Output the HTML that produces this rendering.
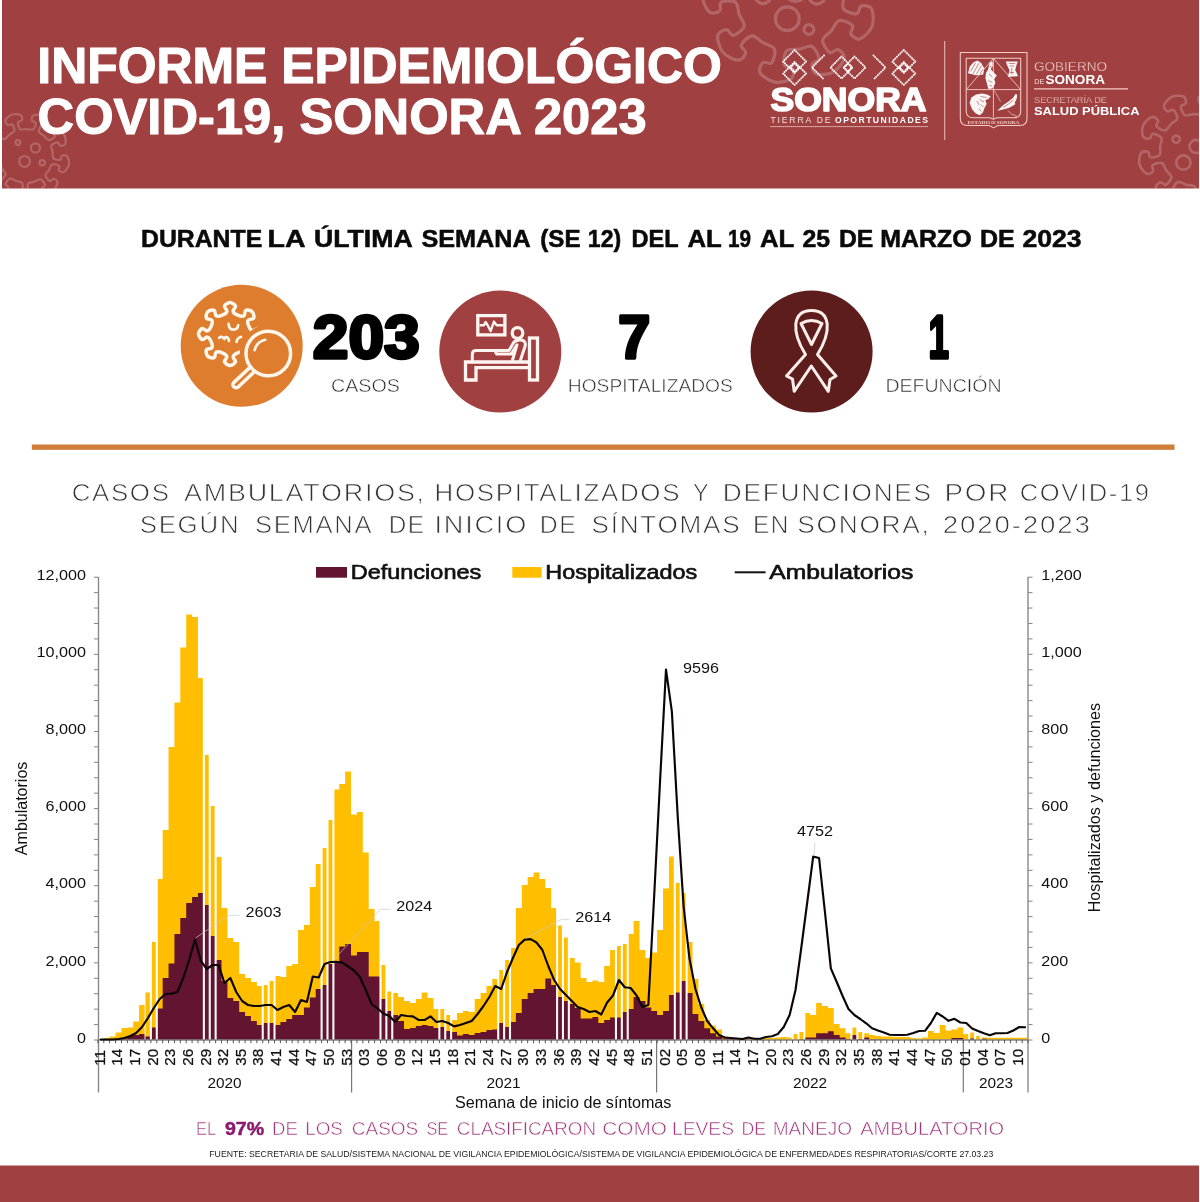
<!DOCTYPE html>
<html lang="es"><head><meta charset="utf-8"><title>Informe Epidemiológico COVID-19, Sonora 2023</title>
<style>
html,body{margin:0;padding:0;background:#fff;}
body{width:1200px;height:1202px;overflow:hidden;position:relative;font-family:"Liberation Sans",sans-serif;}
svg{position:absolute;left:0;top:0;display:block;}
text{font-family:"Liberation Sans",sans-serif;}
text.sf{font-family:"Liberation Serif",serif;}
</style></head><body>
<svg width="1200" height="1202" viewBox="0 0 1200 1202">
<rect x="2" y="0" width="1197" height="188.5" fill="#A14041"/>
<rect x="0" y="1165.5" width="1199" height="36.5" fill="#A14041"/>
<clipPath id="hc"><rect x="2" y="0" width="1197" height="188.5"/></clipPath><g clip-path="url(#hc)">
<g fill="none" stroke="#fff" stroke-width="3.2" stroke-opacity="0.2" stroke-linecap="round" stroke-linejoin="round"><path d="M844.0,-3.9C844.0,0.4 841.4,6.1 843.5,9.0C845.7,11.9 853.9,14.2 856.8,13.7C859.7,13.2 858.7,6.9 861.1,6.1C863.6,5.2 869.6,5.4 871.5,8.7C873.3,12.0 874.0,21.0 872.2,26.0C870.3,31.0 864.0,37.4 860.5,38.8C856.9,40.1 852.2,36.3 850.9,34.1C849.5,31.9 854.4,27.8 852.5,25.5C850.6,23.2 842.8,19.7 839.3,20.5C835.8,21.4 834.1,27.4 831.3,30.7C828.6,34.1 822.9,36.7 822.6,40.4C822.4,44.0 827.2,51.0 829.8,52.5C832.4,54.0 835.6,48.5 838.0,49.4C840.4,50.3 845.0,54.4 844.3,58.1C843.5,61.8 838.3,69.1 833.7,71.8C829.0,74.5 820.1,75.3 816.5,74.1C812.9,72.8 811.7,66.9 812.1,64.3C812.5,61.8 819.0,61.7 818.9,58.8C818.9,55.8 815.3,48.1 812.0,46.5C808.7,44.9 803.6,48.4 799.3,49.2C795.1,49.9 789.0,48.4 786.5,51.0C784.0,53.6 783.2,62.1 784.2,64.9C785.1,67.7 791.2,65.5 792.4,67.8C793.7,70.0 794.6,76.0 791.6,78.4C788.7,80.8 780.0,83.1 774.7,82.1C769.5,81.2 762.1,76.1 760.1,72.8C758.2,69.6 761.1,64.3 763.0,62.6C765.0,60.9 769.9,65.0 771.8,62.7C773.7,60.4 775.9,52.1 774.4,48.8C772.9,45.5 766.7,44.9 763.0,42.7C759.2,40.6 755.6,35.5 752.0,35.9C748.4,36.2 742.3,42.2 741.2,45.0C740.2,47.8 746.2,50.0 745.7,52.6C745.2,55.1 742.1,60.3 738.3,60.2C734.5,60.2 726.4,56.3 722.9,52.2C719.5,48.1 717.1,39.4 717.7,35.7C718.3,31.9 724.0,29.7 726.6,29.7C729.1,29.6 730.3,35.9 733.2,35.4C736.1,34.9 743.1,29.9 744.1,26.4C745.1,22.9 740.7,18.5 739.2,14.4C737.8,10.4 738.3,4.1 735.3,2.1C732.2,0.1 723.7,0.7 721.2,2.2C718.6,3.7 721.7,9.2 719.7,10.9C717.7,12.5 712.0,14.4 709.1,11.9C706.2,9.4 702.5,1.3 702.5,-4.1C702.5,-9.4 706.3,-17.6 709.1,-20.1C712.0,-22.6 717.8,-20.6 719.8,-19.0C721.8,-17.4 718.6,-11.8 721.2,-10.3C723.8,-8.9 732.3,-8.2 735.3,-10.2C738.3,-12.2 737.8,-18.5 739.3,-22.5C740.8,-26.6 745.2,-31.0 744.2,-34.5C743.2,-38.0 736.2,-43.0 733.3,-43.5C730.4,-44.0 729.2,-37.7 726.6,-37.8C724.0,-37.8 718.4,-40.0 717.8,-43.8C717.2,-47.5 719.6,-56.2 723.0,-60.3C726.5,-64.4 734.6,-68.3 738.4,-68.3C742.2,-68.4 745.3,-63.2 745.8,-60.6C746.3,-58.1 740.3,-55.9 741.3,-53.1C742.4,-50.3 748.4,-44.3 752.1,-43.9C755.7,-43.5 759.3,-48.6 763.0,-50.8C766.8,-52.9 773.0,-53.5 774.5,-56.9C776.0,-60.2 773.8,-68.4 771.9,-70.7C770.0,-73.0 765.1,-68.9 763.2,-70.6C761.2,-72.3 758.3,-77.6 760.3,-80.9C762.2,-84.2 769.6,-89.2 774.9,-90.2C780.1,-91.1 788.9,-88.8 791.8,-86.4C794.8,-84.0 793.8,-78.0 792.6,-75.8C791.3,-73.5 785.3,-75.7 784.3,-72.9C783.3,-70.1 784.1,-61.6 786.6,-59.0C789.1,-56.4 795.2,-57.9 799.4,-57.2C803.7,-56.4 808.8,-52.9 812.1,-54.5C815.4,-56.0 819.0,-63.7 819.1,-66.7C819.1,-69.7 812.7,-69.7 812.3,-72.3C811.9,-74.8 813.1,-80.8 816.6,-82.0C820.2,-83.3 829.2,-82.4 833.8,-79.7C838.4,-77.0 843.7,-69.7 844.4,-66.0C845.1,-62.3 840.5,-58.3 838.1,-57.3C835.7,-56.4 832.5,-61.9 829.9,-60.4C827.3,-58.9 822.5,-51.9 822.7,-48.3C823.0,-44.7 828.6,-42.0 831.4,-38.7C834.2,-35.4 835.8,-29.3 839.4,-28.4C842.9,-27.6 850.6,-31.1 852.6,-33.4C854.5,-35.6 849.6,-39.8 850.9,-42.0C852.3,-44.2 857.0,-48.0 860.6,-46.6C864.1,-45.3 870.4,-38.9 872.2,-33.8C874.1,-28.8 873.3,-19.9 871.5,-16.5C869.6,-13.2 863.6,-13.1 861.1,-13.9C858.7,-14.8 859.8,-21.1 856.8,-21.6C853.9,-22.1 845.7,-19.8 843.5,-16.9C841.4,-14.0 844.0,-8.3 844.0,-3.9Z"/><circle cx="787.3" cy="18.7" r="11.9"/><circle cx="808.9" cy="29.5" r="4.9"/><circle cx="795.4" cy="-9.4" r="10.8"/><circle cx="817.0" cy="-4.0" r="8.1"/><circle cx="763.0" cy="-4.0" r="7.6"/></g>
<g fill="none" stroke="#fff" stroke-width="2.2" stroke-opacity="0.2" stroke-linecap="round" stroke-linejoin="round"><path d="M52.7,152.0C53.0,154.1 52.2,157.1 53.4,158.4C54.7,159.7 58.9,160.2 60.4,159.8C61.8,159.3 60.8,156.3 61.9,155.7C63.1,155.1 66.1,154.7 67.2,156.2C68.4,157.7 69.4,162.1 68.9,164.7C68.3,167.3 65.7,170.9 64.0,171.9C62.4,172.8 59.8,171.3 58.9,170.3C58.1,169.3 60.2,166.9 59.1,165.9C58.0,164.9 53.9,163.7 52.2,164.4C50.5,165.1 50.2,168.2 49.0,170.1C47.9,171.9 45.3,173.7 45.5,175.5C45.6,177.3 48.5,180.4 49.9,181.0C51.3,181.5 52.5,178.5 53.7,178.8C55.0,179.1 57.5,180.7 57.5,182.6C57.4,184.5 55.3,188.5 53.3,190.2C51.2,191.9 46.8,193.0 44.9,192.6C43.1,192.3 42.0,189.4 42.0,188.1C42.1,186.8 45.2,186.3 45.0,184.9C44.8,183.4 42.4,179.9 40.7,179.3C38.9,178.8 36.6,180.9 34.6,181.6C32.5,182.3 29.4,182.0 28.4,183.4C27.3,184.9 27.6,189.2 28.3,190.5C29.0,191.8 31.8,190.3 32.6,191.3C33.4,192.3 34.3,195.2 33.0,196.6C31.7,198.0 27.6,199.8 24.9,199.7C22.2,199.7 18.2,197.7 17.0,196.2C15.8,194.8 16.8,191.9 17.6,190.9C18.5,189.9 21.2,191.6 22.0,190.3C22.8,189.1 23.2,184.8 22.2,183.3C21.3,181.7 18.1,181.9 16.1,181.1C14.1,180.3 11.9,178.1 10.2,178.5C8.4,179.0 5.9,182.4 5.6,183.9C5.3,185.3 8.4,186.0 8.3,187.3C8.3,188.6 7.1,191.4 5.2,191.6C3.3,191.9 -1.0,190.5 -3.0,188.8C-5.0,187.0 -6.8,182.9 -6.8,181.0C-6.8,179.1 -4.1,177.6 -2.9,177.4C-1.6,177.2 -0.5,180.2 0.9,179.7C2.3,179.2 5.3,176.3 5.6,174.5C5.8,172.7 3.3,170.8 2.3,168.9C1.2,167.0 1.0,163.9 -0.6,163.1C-2.3,162.3 -6.4,163.3 -7.6,164.2C-8.7,165.1 -6.8,167.6 -7.6,168.6C-8.5,169.6 -11.2,170.9 -12.8,169.9C-14.4,168.9 -16.9,165.1 -17.3,162.5C-17.7,159.9 -16.4,155.5 -15.2,154.1C-13.9,152.6 -11.0,153.2 -9.8,153.8C-8.7,154.5 -9.9,157.5 -8.5,158.0C-7.1,158.5 -2.9,158.3 -1.5,157.0C-0.2,155.8 -0.9,152.8 -0.5,150.6C-0.0,148.5 1.8,146.0 1.1,144.3C0.3,142.7 -3.5,140.8 -5.0,140.7C-6.5,140.7 -6.6,143.9 -7.9,144.0C-9.1,144.2 -12.1,143.5 -12.7,141.7C-13.3,139.9 -12.7,135.4 -11.3,133.2C-9.9,130.9 -6.2,128.4 -4.3,128.1C-2.4,127.7 -0.5,130.1 -0.1,131.3C0.4,132.5 -2.4,134.1 -1.7,135.4C-1.0,136.7 2.4,139.2 4.3,139.1C6.1,139.0 7.5,136.2 9.2,134.9C10.9,133.5 13.9,132.8 14.4,131.0C14.9,129.3 13.2,125.4 12.1,124.4C11.0,123.4 8.8,125.8 7.8,125.1C6.7,124.4 4.8,122.0 5.5,120.2C6.3,118.4 9.6,115.4 12.1,114.5C14.6,113.7 19.1,114.1 20.7,115.1C22.4,116.1 22.4,119.1 21.9,120.3C21.5,121.5 18.3,120.9 18.0,122.4C17.7,123.8 18.8,128.0 20.2,129.1C21.7,130.2 24.5,129.0 26.7,129.0C28.8,129.1 31.7,130.4 33.2,129.4C34.7,128.4 35.9,124.3 35.7,122.8C35.5,121.4 32.3,121.8 31.9,120.6C31.5,119.3 31.7,116.3 33.3,115.4C35.0,114.5 39.5,114.3 42.0,115.3C44.5,116.3 47.6,119.5 48.2,121.3C48.9,123.1 46.9,125.4 45.8,126.0C44.7,126.7 42.7,124.2 41.5,125.1C40.4,126.0 38.5,129.9 38.9,131.7C39.3,133.4 42.3,134.3 43.9,135.8C45.5,137.2 46.8,140.1 48.6,140.2C50.4,140.4 54.0,138.1 54.7,136.8C55.5,135.5 52.8,133.9 53.3,132.7C53.8,131.5 55.8,129.2 57.7,129.6C59.6,130.0 63.1,132.8 64.4,135.1C65.7,137.4 66.0,141.9 65.4,143.7C64.7,145.5 61.7,146.0 60.4,145.8C59.2,145.5 59.2,142.3 57.7,142.3C56.2,142.3 52.3,144.0 51.5,145.6C50.7,147.2 52.4,149.9 52.7,152.0Z"/><circle cx="35.5" cy="147.9" r="4.6"/><circle cx="24.6" cy="161.4" r="5.4"/><circle cx="42.2" cy="162.8" r="2.7"/><circle cx="17.9" cy="142.5" r="2.4"/></g>
<g fill="none" stroke="#fff" stroke-width="2.6" stroke-opacity="0.2" stroke-linecap="round" stroke-linejoin="round"><path d="M1230.9,141.1C1231.6,143.9 1230.9,148.0 1232.7,149.6C1234.6,151.1 1240.3,151.2 1242.1,150.4C1243.9,149.6 1242.2,145.7 1243.6,144.8C1245.0,143.8 1249.0,142.9 1250.7,144.8C1252.5,146.6 1254.4,152.3 1254.0,155.8C1253.7,159.4 1250.7,164.5 1248.6,166.0C1246.5,167.5 1242.8,165.8 1241.6,164.6C1240.4,163.4 1242.9,159.9 1241.2,158.7C1239.6,157.6 1234.0,156.6 1231.9,157.7C1229.8,158.9 1229.7,163.0 1228.4,165.6C1227.2,168.2 1224.0,170.9 1224.4,173.3C1224.8,175.7 1229.1,179.4 1231.0,179.9C1232.9,180.5 1234.1,176.4 1235.8,176.6C1237.5,176.8 1241.1,178.6 1241.3,181.2C1241.4,183.7 1239.3,189.3 1236.7,191.8C1234.2,194.2 1228.5,196.3 1226.0,196.1C1223.5,195.9 1221.7,192.2 1221.6,190.5C1221.4,188.8 1225.5,187.7 1225.0,185.8C1224.5,183.9 1220.9,179.5 1218.5,179.0C1216.2,178.5 1213.4,181.6 1210.8,182.8C1208.2,184.0 1204.0,184.0 1202.8,186.1C1201.6,188.2 1202.5,193.8 1203.6,195.5C1204.7,197.1 1208.2,194.7 1209.4,196.0C1210.6,197.2 1212.2,200.9 1210.7,203.0C1209.2,205.0 1203.9,207.9 1200.3,208.2C1196.8,208.4 1191.2,206.4 1189.4,204.6C1187.6,202.8 1188.6,198.9 1189.6,197.4C1190.5,196.0 1194.4,197.9 1195.3,196.1C1196.1,194.3 1196.1,188.6 1194.6,186.7C1193.1,184.8 1189.0,185.4 1186.2,184.7C1183.5,183.9 1180.3,181.2 1178.0,182.0C1175.7,182.9 1172.8,187.7 1172.6,189.7C1172.4,191.7 1176.6,192.1 1176.7,193.8C1176.8,195.6 1175.6,199.4 1173.2,200.0C1170.7,200.6 1164.8,199.4 1161.9,197.3C1159.1,195.3 1156.1,190.1 1155.8,187.5C1155.6,185.0 1158.9,182.7 1160.6,182.2C1162.2,181.8 1164.0,185.6 1165.8,184.8C1167.6,184.0 1171.3,179.7 1171.4,177.2C1171.4,174.8 1167.9,172.7 1166.2,170.3C1164.6,167.9 1163.9,163.8 1161.6,163.0C1159.4,162.1 1154.0,164.0 1152.6,165.4C1151.1,166.7 1154.1,169.8 1153.1,171.2C1152.0,172.6 1148.6,174.8 1146.4,173.6C1144.1,172.5 1140.4,167.8 1139.5,164.4C1138.6,160.9 1139.7,155.0 1141.1,152.9C1142.6,150.9 1146.6,151.2 1148.2,151.9C1149.7,152.6 1148.6,156.7 1150.5,157.3C1152.4,157.8 1158.0,156.8 1159.6,155.0C1161.2,153.2 1159.9,149.3 1160.2,146.4C1160.5,143.5 1162.6,139.9 1161.3,137.8C1160.1,135.8 1154.8,133.7 1152.8,133.8C1150.9,134.0 1151.2,138.2 1149.5,138.6C1147.8,139.0 1143.8,138.5 1142.8,136.2C1141.8,133.9 1141.9,127.9 1143.5,124.7C1145.0,121.5 1149.6,117.6 1152.1,117.0C1154.5,116.3 1157.4,119.1 1158.1,120.7C1158.9,122.3 1155.3,124.7 1156.5,126.3C1157.6,127.9 1162.5,130.8 1164.9,130.5C1167.3,130.1 1168.8,126.2 1170.9,124.2C1172.9,122.2 1176.9,120.8 1177.3,118.4C1177.7,116.0 1174.9,111.1 1173.3,109.9C1171.7,108.7 1169.2,112.2 1167.7,111.4C1166.1,110.6 1163.4,107.7 1164.1,105.2C1164.8,102.8 1168.8,98.3 1172.0,96.8C1175.3,95.4 1181.3,95.4 1183.6,96.5C1185.9,97.5 1186.3,101.5 1185.8,103.2C1185.4,104.9 1181.1,104.5 1180.9,106.4C1180.8,108.4 1182.7,113.8 1184.7,115.1C1186.8,116.3 1190.4,114.3 1193.3,114.1C1196.2,113.9 1200.1,115.3 1202.0,113.8C1203.8,112.2 1204.9,106.6 1204.4,104.7C1203.9,102.8 1199.8,103.8 1199.1,102.2C1198.4,100.6 1198.2,96.6 1200.3,95.2C1202.5,93.8 1208.4,92.9 1211.8,93.9C1215.2,94.8 1219.8,98.7 1220.9,101.0C1222.0,103.3 1219.7,106.6 1218.3,107.6C1216.9,108.6 1213.9,105.6 1212.5,107.0C1211.1,108.4 1209.1,113.7 1209.8,116.0C1210.6,118.3 1214.7,119.1 1217.0,120.8C1219.4,122.5 1221.4,126.1 1223.9,126.1C1226.3,126.1 1230.7,122.5 1231.6,120.7C1232.4,118.9 1228.6,117.1 1229.1,115.4C1229.6,113.8 1232.0,110.5 1234.6,110.8C1237.1,111.1 1242.2,114.2 1244.2,117.2C1246.2,120.1 1247.2,126.0 1246.6,128.5C1245.9,130.9 1242.0,132.0 1240.3,131.9C1238.6,131.7 1238.2,127.4 1236.3,127.6C1234.3,127.8 1229.4,130.6 1228.5,132.8C1227.6,135.1 1230.2,138.3 1230.9,141.1Z"/><circle cx="1183.4" cy="162.6" r="7.2"/><circle cx="1176.2" cy="139.2" r="3.6"/><circle cx="1196.0" cy="146.4" r="6.5"/></g>
</g>
<g fill="#fff" stroke="#fff" stroke-width="1.1" stroke-linejoin="round" font-weight="bold" font-size="50">
<text x="37.3" y="83" textLength="684.5" lengthAdjust="spacingAndGlyphs">INFORME EPIDEMIOLÓGICO</text>
<text x="37.6" y="134" textLength="609" lengthAdjust="spacingAndGlyphs">COVID-19, SONORA 2023</text>
</g>
<g fill="none" stroke="#fff" stroke-width="2.0" stroke-dasharray="0.01 2.3" stroke-linecap="round" stroke-opacity="0.97">
<path d="M794.6,50.0L806.1,61.5L794.6,73.0L783.1,61.5Z"/><path d="M794.6,62.0L806.1,73.5L794.6,85.0L783.1,73.5Z"/><path d="M794.6,63.3L798.8000000000001,67.5L794.6,71.7L790.4,67.5Z"/>
<path d="M903.8,50.0L915.3,61.5L903.8,73.0L892.3,61.5Z"/><path d="M903.8,62.0L915.3,73.5L903.8,85.0L892.3,73.5Z"/><path d="M903.8,63.3L908.0,67.5L903.8,71.7L899.5999999999999,67.5Z"/>
<path d="M841.5,56.5L852.5,67.5L841.5,78.5L830.5,67.5Z"/><path d="M854.5,56.5L865.5,67.5L854.5,78.5L843.5,67.5Z"/><path d="M848,63.7L851.8,67.5L848,71.3L844.2,67.5Z"/>
<path d="M824,55.5L812,67.5L824,79.5"/><path d="M873.5,55.5L885.5,67.5L873.5,79.5"/>
</g>
<text x="770.5" y="110.8" font-size="32.5" font-weight="bold" fill="#fff" stroke="#fff" stroke-width="1.6" stroke-linejoin="round" textLength="156" lengthAdjust="spacingAndGlyphs">SONORA</text>
<text x="770.5" y="123.4" font-size="8.6" fill="#fff" fill-opacity="0.85" textLength="60" lengthAdjust="spacing">TIERRA DE</text>
<text x="835" y="123.4" font-size="8.6" font-weight="bold" fill="#fff" textLength="93" lengthAdjust="spacing">OPORTUNIDADES</text>
<line x1="770.5" y1="126.6" x2="928" y2="126.6" stroke="#fff" stroke-width="1" stroke-dasharray="1.2 0.8" stroke-opacity="0.9"/>
<line x1="944.7" y1="41" x2="944.7" y2="140" stroke="#f3c9c4" stroke-width="1.1" stroke-opacity="0.85"/>
<g fill="none" stroke="#F4CBC5" stroke-width="1.05" stroke-linejoin="round">
<path d="M960.3,52.4H1027V118.5Q1027,125.3 1020,125.4L998,125.5L993.6,127.9L989.2,125.5L967.3,125.4Q960.3,125.3 960.3,118.5Z"/>
<path d="M966.2,58.2H1020.7V111Q1020.7,117.8 1013.5,117.8H997L993.4,119.2L989.8,117.8H973.4Q966.2,117.8 966.2,111Z"/>
<path d="M966.2,89.6H1020.7M993.4,58.2V118.5M993.4,58.4L966.4,89.4M993.4,58.4L1020.5,89.4" stroke-width="0.9"/>
<path d="M994.3,90.5L1000.5,101.5M1008,110.5Q1010.5,115 1016.5,115.8" stroke-width="0.7"/>
</g>
<g fill="#fff" fill-opacity="0.95">
<path d="M968,73.2L969.8,66.5L973.6,62.2L977.4,60.4L981.2,63L984.2,68.2L983.2,74.4L976,75.2Z"/>
<path d="M1005.8,61.4L1017.8,61.4L1016.2,66L1015.2,70L1018.2,76.2L1007.8,76.8L1009.6,70.2L1007.4,66Z"/>
<path d="M989.8,62.2L992.6,61.4L992.8,66L990.8,69.2L993.2,72L996.8,75.6L994.2,79L995.4,83.2L992.2,88.6L988.4,89L987,84L985.4,78L986,73L988.2,69Z"/>
<path d="M969.6,103L971.4,97.4L976,94.4L982,93.4L987.2,94.4L990.8,96.6L988,99.2L985.4,100L986.6,104L984.4,108.2L983,112.2L980,115.2L975.8,113.6L972.2,109.6Z"/>
<path d="M997.2,110.8Q1003,104.5 1008.5,101.5Q1013.5,98.5 1015.6,94L1017,94.6Q1017.4,99.5 1014.6,102.4Q1015.8,103.4 1015,104.6Q1009.5,108.6 1003,109.6Z"/>
</g>
<g fill="none" stroke="#A14041" stroke-width="0.7" stroke-opacity="0.85">
<path d="M970.5,71.5L975.5,63M973,73.5L979,63.2M976.5,74L981.5,65.5M980,74L983,69"/>
<path d="M1008.8,63.5H1015.2M1009.5,66H1014.2M1011.8,68V74.5M1009.8,72.5L1014,72.5"/>
<path d="M990.2,65.5L991.8,68.5M989,74L992.5,77M988.5,80.5L992.5,82.5M989.5,85.5L992,86"/>
<path d="M980.5,96.5L986.5,97.5M979.5,99.5L984,102M981,104.5L983.5,107M978.5,108.5L981.5,111.5M977,101L979,105"/>
<path d="M1003,107.5Q1009,104 1013.5,100"/>
</g>
<g fill="#F4CBC5" font-weight="bold" class="sf">
<text class="sf" x="967.4" y="123.9" font-size="4.9" textLength="22.6" lengthAdjust="spacingAndGlyphs">ESTADO</text>
<text class="sf" x="991.2" y="123.9" font-size="3.4" textLength="4.6" lengthAdjust="spacingAndGlyphs">DE</text>
<text class="sf" x="996.8" y="123.9" font-size="4.9" textLength="22.6" lengthAdjust="spacingAndGlyphs">SONORA</text>
</g>
<text x="1034" y="70.9" font-size="13.4" fill="#f6dcd8" stroke="#A14041" stroke-width="0.35" textLength="73" lengthAdjust="spacingAndGlyphs">GOBIERNO</text>
<text x="1034.3" y="83.6" font-size="8" fill="#f6dcd8" textLength="10" lengthAdjust="spacingAndGlyphs">DE</text>
<text x="1045.5" y="83.8" font-size="12.6" font-weight="bold" fill="#fff" textLength="59.5" lengthAdjust="spacingAndGlyphs">SONORA</text>
<line x1="1034" y1="88.9" x2="1128" y2="88.9" stroke="#f3c9c4" stroke-width="1.1"/>
<text x="1034" y="102.6" font-size="8.4" fill="#f6dcd8" stroke="#A14041" stroke-width="0.25" textLength="73" lengthAdjust="spacingAndGlyphs">SECRETARÍA DE</text>
<text x="1034" y="114.8" font-size="10.4" font-weight="bold" fill="#fff" textLength="105.5" lengthAdjust="spacingAndGlyphs">SALUD PÚBLICA</text>
<g font-size="24.4" font-weight="bold" fill="#0a0a0a" stroke="#0a0a0a" stroke-width="0.55" stroke-linejoin="round">
<text x="140.98" y="247" textLength="121.27" lengthAdjust="spacingAndGlyphs">DURANTE</text>
<text x="267.63" y="247" textLength="37.97" lengthAdjust="spacingAndGlyphs">LA</text>
<text x="313.9" y="247" textLength="98.94" lengthAdjust="spacingAndGlyphs">ÚLTIMA</text>
<text x="421.47" y="247" textLength="109.26" lengthAdjust="spacingAndGlyphs">SEMANA</text>
<text x="540.31" y="247" textLength="40.36" lengthAdjust="spacingAndGlyphs">(SE</text>
<text x="587.85" y="247" textLength="33.34" lengthAdjust="spacingAndGlyphs">12)</text>
<text x="631.54" y="247" textLength="47.07" lengthAdjust="spacingAndGlyphs">DEL</text>
<text x="687.5" y="247" textLength="34.34" lengthAdjust="spacingAndGlyphs">AL</text>
<text x="727.95" y="247" textLength="23.02" lengthAdjust="spacingAndGlyphs">19</text>
<text x="760.0" y="247" textLength="34.34" lengthAdjust="spacingAndGlyphs">AL</text>
<text x="802.5" y="247" textLength="27.64" lengthAdjust="spacingAndGlyphs">25</text>
<text x="838.98" y="247" textLength="34.42" lengthAdjust="spacingAndGlyphs">DE</text>
<text x="880.28" y="247" textLength="91.45" lengthAdjust="spacingAndGlyphs">MARZO</text>
<text x="979.98" y="247" textLength="34.74" lengthAdjust="spacingAndGlyphs">DE</text>
<text x="1022.5" y="247" textLength="59.09" lengthAdjust="spacingAndGlyphs">2023</text>
</g>
<circle cx="241.7" cy="345.8" r="61" fill="#DF7D2E"/>
<circle cx="500.3" cy="351.6" r="61" fill="#A14041"/>
<circle cx="811.6" cy="351.6" r="61" fill="#5E1D1D"/>
<path d="M222.2,315.2C224.0,314.5 226.6,312.8 226.9,311.3C227.3,309.7 223.9,307.6 224.5,306.1C225.0,304.7 228.2,302.5 230.0,302.5C231.8,302.5 235.0,304.7 235.5,306.1C236.1,307.6 232.7,309.7 233.1,311.3C233.4,312.8 236.0,314.5 237.8,315.2C239.6,316.0 242.6,316.6 243.9,315.8C245.3,315.0 244.4,311.0 245.8,310.4C247.2,309.7 250.9,310.4 252.2,311.8C253.6,313.1 254.3,316.8 253.6,318.2C253.0,319.6 249.0,318.7 248.2,320.1C247.4,321.4 248.0,324.4 248.8,326.2C249.5,328.0 251.2,330.6 252.7,330.9C254.3,331.3 256.4,327.9 257.9,328.5C259.3,329.0 261.5,332.2 261.5,334.0C261.5,335.8 259.3,339.0 257.9,339.5C256.4,340.1 254.3,336.7 252.7,337.1C251.2,337.4 249.5,340.0 248.8,341.8C248.0,343.6 247.4,346.6 248.2,347.9C249.0,349.3 253.0,348.4 253.6,349.8C254.3,351.2 253.6,354.9 252.2,356.2C250.9,357.6 247.2,358.3 245.8,357.6C244.4,357.0 245.3,353.0 243.9,352.2C242.6,351.4 239.6,352.0 237.8,352.8C236.0,353.5 233.4,355.2 233.1,356.7C232.7,358.3 236.1,360.4 235.5,361.9C235.0,363.3 231.8,365.5 230.0,365.5C228.2,365.5 225.0,363.3 224.5,361.9C223.9,360.4 227.3,358.3 226.9,356.7C226.6,355.2 224.0,353.5 222.2,352.8C220.4,352.0 217.4,351.4 216.1,352.2C214.7,353.0 215.6,357.0 214.2,357.6C212.8,358.3 209.1,357.6 207.8,356.2C206.4,354.9 205.7,351.2 206.4,349.8C207.0,348.4 211.0,349.3 211.8,347.9C212.6,346.6 212.0,343.6 211.2,341.8C210.5,340.0 208.8,337.4 207.3,337.1C205.7,336.7 203.6,340.1 202.1,339.5C200.7,339.0 198.5,335.8 198.5,334.0C198.5,332.2 200.7,329.0 202.1,328.5C203.6,327.9 205.7,331.3 207.3,330.9C208.8,330.6 210.5,328.0 211.2,326.2C212.0,324.4 212.6,321.4 211.8,320.1C211.0,318.7 207.0,319.6 206.4,318.2C205.7,316.8 206.4,313.1 207.8,311.8C209.1,310.4 212.8,309.7 214.2,310.4C215.6,311.0 214.7,315.0 216.1,315.8C217.4,316.6 220.4,316.0 222.2,315.2Z" fill="none" stroke="#FFF7EC" stroke-width="3.5" stroke-linejoin="round"/>
<circle cx="268.3" cy="353.5" r="28.6" fill="#DF7D2E"/>
<g fill="none" stroke="#FFF7EC" stroke-width="3.5" stroke-linecap="round" stroke-linejoin="round">
<circle cx="268.3" cy="353.5" r="22.3"/>
<path d="M254.6,350.2A14,14 0 0 1 265.2,339.8" stroke-width="2.7"/>
<g transform="translate(252.5,369.3) rotate(137)"><path d="M0,-3.1H22.5A3.1,3.1 0 0 1 22.5,3.1H0"/></g>
<path d="M228.6,323.8Q229,329.6 233.2,329.6Q237.8,329.6 238.2,325M219.2,337.8Q222,335.5 224.5,339M225.5,337Q228.5,337 229,341M236.5,342Q237,338 241,337" stroke-width="2.7"/>
</g>
<g fill="none" stroke="#FFF4F0" stroke-width="3.3" stroke-linejoin="miter" stroke-linecap="butt">
<rect x="477.8" y="315.6" width="27.1" height="19.3"/>
<path d="M479.5,325.2H484L485.6,322L487.6,325.2L490.6,331L494,321.6L496.6,325.2H503.5" stroke-width="2.4" stroke-linejoin="round"/>
<rect x="529.5" y="338" width="8" height="42"/>
<path d="M529.5,362H465.5V380H476V367.6H529.5"/>
<circle cx="517.5" cy="333" r="5.3"/>
<g stroke-linecap="round" stroke-linejoin="round" stroke-width="3">
<path d="M472.3,360.5V354.2Q472.3,350.4 476.2,350.4H496.5"/>
<path d="M496.8,350.4H509L514,342Q519,338.3 524,341Q526,343 525,346.5L520.5,360"/>
<path d="M496.8,350.4Q494.6,352.2 496.8,354.1H511L517,344.8L512.5,360"/>
</g></g>
<g fill="none" stroke="#FCEEEB" stroke-width="3" stroke-linejoin="round" stroke-linecap="round">
<path d="M811.5,310.5C803,310.5 797,314.5 795.8,324C795,333 799,344 805.5,354.5L786.5,376L792.5,379L794.2,391.3L811.3,366L828.3,391.3L830,379.5L836,376L817.5,354.5C824,344 828,333 827.2,324C826,314.5 820,310.5 811.5,310.5Z"/>
<path d="M801,323.5Q811.5,317.3 822,323.5L811.5,344.5Z" stroke-linejoin="round"/>
</g>
<g fill="#000" stroke="#000" stroke-width="3.4" stroke-linejoin="round" font-weight="bold" font-size="61.5">
<text x="312.8" y="357.6" textLength="107" lengthAdjust="spacingAndGlyphs">203</text>
<text x="618.3" y="358.3" textLength="32" lengthAdjust="spacingAndGlyphs">7</text>
<text x="928.6" y="358.3" textLength="20.5" lengthAdjust="spacingAndGlyphs">1</text>
</g>
<g fill="#2b2b2b" font-size="18.6" stroke="#fff" stroke-width="0.5">
<text x="331" y="392" textLength="69" lengthAdjust="spacingAndGlyphs">CASOS</text>
<text x="567.8" y="392" textLength="165" lengthAdjust="spacingAndGlyphs">HOSPITALIZADOS</text>
<text x="885.5" y="392" textLength="116" lengthAdjust="spacingAndGlyphs">DEFUNCIÓN</text>
</g>
<rect x="31.8" y="444.5" width="1142.7" height="5.3" fill="#CF7D37"/>
<g fill="#333" font-size="24.6" stroke="#fff" stroke-width="0.7" letter-spacing="1.6">
<text x="71.65" y="501" textLength="98.92" lengthAdjust="spacingAndGlyphs">CASOS</text>
<text x="184.0" y="501" textLength="241.84" lengthAdjust="spacingAndGlyphs">AMBULATORIOS,</text>
<text x="434.59" y="501" textLength="246.63" lengthAdjust="spacingAndGlyphs">HOSPITALIZADOS</text>
<text x="693.05" y="501" textLength="17.17" lengthAdjust="spacingAndGlyphs">Y</text>
<text x="722.86" y="501" textLength="209.92" lengthAdjust="spacingAndGlyphs">DEFUNCIONES</text>
<text x="944.44" y="501" textLength="65.78" lengthAdjust="spacingAndGlyphs">POR</text>
<text x="1019.66" y="501" textLength="130.99" lengthAdjust="spacingAndGlyphs">COVID-19</text>
<text x="139.65" y="533.3" textLength="100.71" lengthAdjust="spacingAndGlyphs">SEGÚN</text>
<text x="254.96" y="533.3" textLength="118.27" lengthAdjust="spacingAndGlyphs">SEMANA</text>
<text x="388.72" y="533.3" textLength="36.92" lengthAdjust="spacingAndGlyphs">DE</text>
<text x="434.49" y="533.3" textLength="93.56" lengthAdjust="spacingAndGlyphs">INICIO</text>
<text x="539.68" y="533.3" textLength="37.71" lengthAdjust="spacingAndGlyphs">DE</text>
<text x="591.64" y="533.3" textLength="149.65" lengthAdjust="spacingAndGlyphs">SÍNTOMAS</text>
<text x="753.02" y="533.3" textLength="37.02" lengthAdjust="spacingAndGlyphs">EN</text>
<text x="797.23" y="533.3" textLength="133.35" lengthAdjust="spacingAndGlyphs">SONORA,</text>
<text x="942.87" y="533.3" textLength="148.83" lengthAdjust="spacingAndGlyphs">2020-2023</text>
</g>
<path d="M97.9,1040V1039H103.79V1038H109.67V1036.5H115.56V1032.5H121.45V1028H127.34V1027.5H133.22V1021.5H139.11V1005H145V992.5H150.88V942H156.77V879H162.66V830H168.54V747H174.43V702.4H180.32V647.4H186.2V614.4H192.09V617H197.98V678H203.87V755H209.75V806H215.64V857H221.53V908H227.41V938H233.3V942H239.19V974H245.07V978H250.96V982H256.85V986H262.74V985H268.62V981H274.51V976H280.4V977H286.28V966H292.17V964H298.06V930H303.94V925H309.83V887H315.72V864H321.61V848H327.49V820H333.38V789.5H339.27V784H345.15V771.5H351.04V814.5H356.93V812H362.81V852.5H368.7V909H374.59V921H380.48V965H386.36V991.5H392.25V993H398.14V997H404.02V1001H409.91V1003H415.8V999H421.68V992.4H427.57V998H433.46V1009H439.35V1009H445.23V1015H451.12V1020H457.01V1013H462.89V1011H468.78V1012H474.67V999H480.55V993H486.44V986H492.33V979H498.22V970H504.1V960H509.99V948H515.88V908H521.76V885H527.65V877H533.54V872.4H539.42V879H545.31V888H551.2V908H557.09V925.6H562.97V937.6H568.86V958H574.75V962.4H580.63V978H586.52V982H592.41V980.4H598.29V982H604.18V966H610.07V950H615.96V946H621.84V944H627.73V934H633.62V921H639.5V950H645.39V958H651.28V952.5H657.16V930H663.05V888.5H668.94V856.4H674.83V883H680.71V893H686.6V942H692.49V979H698.37V1004H704.26V1020H710.15V1025.5H716.03V1029.5H721.92V1036.5H727.81V1038H733.7V1038.5H739.58V1038.5H745.47V1038.5H751.36V1038.5H757.24V1038.5H763.13V1038H769.02V1038H774.9V1037.5H780.79V1037H786.68V1037.5H792.57V1034H798.45V1032H804.34V1013H810.23V1015H816.11V1003H822V1006H827.89V1008H833.77V1024H839.66V1028.3H845.55V1033.3H851.44V1027.5H857.32V1032H863.21V1033.3H869.1V1035H874.98V1036H880.87V1036.5H886.76V1036.5H892.64V1037H898.53V1037H904.42V1037H910.31V1038H916.19V1038.5H922.08V1037.5H927.97V1031H933.85V1033H939.74V1025H945.63V1030.5H951.51V1029.5H957.4V1027.5H963.29V1034H969.18V1032.5H975.06V1036H980.95V1037.5H986.84V1037.8H992.72V1037.8H998.61V1037.8H1004.5V1037.8H1010.38V1037.8H1016.27V1037.8H1022.16V1037.8H1028.05V1040Z" fill="#FFBF00"/>
<path d="M97.9,1040V1039.5H103.79V1039.5H109.67V1039.5H115.56V1039.5H121.45V1038.5H127.34V1036H133.22V1035H139.11V1034H145V1036.5H150.88V1027.5H156.77V1008.5H162.66V978H168.54V963.5H174.43V934H180.32V918H186.2V903H192.09V897H197.98V893H203.87V905H209.75V936H215.64V960H221.53V981H227.41V998H233.3V1001H239.19V1012H245.07V1016H250.96V1021H256.85V1025H262.74V1023H268.62V1023H274.51V1025H280.4V1022H286.28V1019H292.17V1015H298.06V1015H303.94V1007.5H309.83V997.5H315.72V989H321.61V985H327.49V964H333.38V963H339.27V946.5H345.15V944H351.04V955.5H356.93V952H362.81V952H368.7V976.5H374.59V976.5H380.48V999H386.36V1011H392.25V1015H398.14V1021H404.02V1029H409.91V1028H415.8V1026H421.68V1025H427.57V1026H433.46V1028H439.35V1027H445.23V1031H451.12V1032H457.01V1035.5H462.89V1034H468.78V1035H474.67V1033H480.55V1032H486.44V1030H492.33V1029.5H498.22V1023H504.1V1027H509.99V1022H515.88V1013H521.76V999H527.65V993H533.54V989H539.42V989H545.31V978.6H551.2V985H557.09V997H562.97V1001H568.86V1004H574.75V1008H580.63V1018.4H586.52V1018.4H592.41V1017H598.29V1023H604.18V1020H610.07V1017.5H615.96V1017.5H621.84V1012H627.73V1009H633.62V997H639.5V1001H645.39V1007.5H651.28V1011H657.16V1015H663.05V1011H668.94V995H674.83V992.5H680.71V981H686.6V993H692.49V1014H698.37V1021H704.26V1028.3H710.15V1033.3H716.03V1036.5H721.92V1038.5H727.81V1039H733.7V1039.5H739.58V1039.5H745.47V1039.5H751.36V1040H757.24V1040H763.13V1040H769.02V1040H774.9V1040H780.79V1040H786.68V1040H792.57V1040H798.45V1039.5H804.34V1037.5H810.23V1037.5H816.11V1033.3H822V1033.3H827.89V1031.3H833.77V1035H839.66V1037.5H845.55V1039H851.44V1035H857.32V1039H863.21V1037.5H869.1V1039.5H874.98V1039.5H880.87V1039.5H886.76V1040H892.64V1040H898.53V1040H904.42V1040H910.31V1040H916.19V1040H922.08V1040H927.97V1040H933.85V1040H939.74V1040H945.63V1040H951.51V1038H957.4V1038H963.29V1040H969.18V1038.5H975.06V1040H980.95V1038.8H986.84V1040H992.72V1040H998.61V1040H1004.5V1040H1010.38V1040H1016.27V1040H1022.16V1040H1028.05V1040Z" fill="#631431"/>
<g stroke="#fff" stroke-width="2.1"><line x1="145" y1="1040" x2="145" y2="992" stroke-opacity="0.45"/><line x1="150.88" y1="1040" x2="150.88" y2="941.5" stroke-opacity="0.97"/><line x1="156.77" y1="1040" x2="156.77" y2="878.5" stroke-opacity="0.97"/><line x1="203.87" y1="1040" x2="203.87" y2="677.5" stroke-opacity="0.97"/><line x1="209.75" y1="1040" x2="209.75" y2="754.5" stroke-opacity="0.97"/><line x1="215.64" y1="1040" x2="215.64" y2="805.5" stroke-opacity="0.97"/><line x1="262.74" y1="1040" x2="262.74" y2="984.5" stroke-opacity="0.97"/><line x1="268.62" y1="1040" x2="268.62" y2="980.5" stroke-opacity="0.97"/><line x1="274.51" y1="1040" x2="274.51" y2="975.5" stroke-opacity="0.97"/><line x1="321.61" y1="1040" x2="321.61" y2="847.5" stroke-opacity="0.97"/><line x1="327.49" y1="1040" x2="327.49" y2="819.5" stroke-opacity="0.97"/><line x1="333.38" y1="1040" x2="333.38" y2="789" stroke-opacity="0.97"/><line x1="380.48" y1="1040" x2="380.48" y2="920.5" stroke-opacity="0.97"/><line x1="386.36" y1="1040" x2="386.36" y2="964.5" stroke-opacity="0.97"/><line x1="392.25" y1="1040" x2="392.25" y2="991" stroke-opacity="0.97"/><line x1="439.35" y1="1040" x2="439.35" y2="1008.5" stroke-opacity="0.97"/><line x1="445.23" y1="1040" x2="445.23" y2="1008.5" stroke-opacity="0.97"/><line x1="451.12" y1="1040" x2="451.12" y2="1014.5" stroke-opacity="0.97"/><line x1="498.22" y1="1040" x2="498.22" y2="969.5" stroke-opacity="0.97"/><line x1="504.1" y1="1040" x2="504.1" y2="959.5" stroke-opacity="0.97"/><line x1="509.99" y1="1040" x2="509.99" y2="947.5" stroke-opacity="0.97"/><line x1="557.09" y1="1040" x2="557.09" y2="907.5" stroke-opacity="0.97"/><line x1="562.97" y1="1040" x2="562.97" y2="925.1" stroke-opacity="0.97"/><line x1="568.86" y1="1040" x2="568.86" y2="937.1" stroke-opacity="0.97"/><line x1="615.96" y1="1040" x2="615.96" y2="945.5" stroke-opacity="0.97"/><line x1="621.84" y1="1040" x2="621.84" y2="943.5" stroke-opacity="0.97"/><line x1="627.73" y1="1040" x2="627.73" y2="933.5" stroke-opacity="0.97"/><line x1="674.83" y1="1040" x2="674.83" y2="855.9" stroke-opacity="0.97"/><line x1="680.71" y1="1040" x2="680.71" y2="882.5" stroke-opacity="0.97"/><line x1="686.6" y1="1040" x2="686.6" y2="892.5" stroke-opacity="0.97"/><line x1="792.57" y1="1040" x2="792.57" y2="1033.5" stroke-opacity="0.97"/><line x1="798.45" y1="1040" x2="798.45" y2="1031.5" stroke-opacity="0.97"/><line x1="804.34" y1="1040" x2="804.34" y2="1012.5" stroke-opacity="0.97"/><line x1="851.44" y1="1040" x2="851.44" y2="1027" stroke-opacity="0.97"/><line x1="857.32" y1="1040" x2="857.32" y2="1027" stroke-opacity="0.97"/><line x1="863.21" y1="1040" x2="863.21" y2="1031.5" stroke-opacity="0.97"/><line x1="969.18" y1="1040" x2="969.18" y2="1032" stroke-opacity="0.97"/><line x1="975.06" y1="1040" x2="975.06" y2="1032" stroke-opacity="0.97"/><line x1="980.95" y1="1040" x2="980.95" y2="1035.5" stroke-opacity="0.97"/></g>
<g stroke="#858585" stroke-width="1.35" fill="none">
<path d="M98.5,577V1092.5M1028,577V1092.5M98.5,1040H1028"/>
<path d="M351.6,1040V1092.5M656.6,1040V1092.5M963.3,1040V1092.5" stroke="#777" stroke-width="1.2"/>
<path d="M94,1040H98.5M1028,1040h4.5M94,1024.57H98.5M1028,1024.57h4.5M94,1009.15H98.5M1028,1009.15h4.5M94,993.72H98.5M1028,993.72h4.5M94,978.29H98.5M1028,978.29h4.5M94,962.87H98.5M1028,962.87h4.5M94,947.44H98.5M1028,947.44h4.5M94,932.01H98.5M1028,932.01h4.5M94,916.59H98.5M1028,916.59h4.5M94,901.16H98.5M1028,901.16h4.5M94,885.73H98.5M1028,885.73h4.5M94,870.31H98.5M1028,870.31h4.5M94,854.88H98.5M1028,854.88h4.5M94,839.45H98.5M1028,839.45h4.5M94,824.03H98.5M1028,824.03h4.5M94,808.6H98.5M1028,808.6h4.5M94,793.17H98.5M1028,793.17h4.5M94,777.75H98.5M1028,777.75h4.5M94,762.32H98.5M1028,762.32h4.5M94,746.89H98.5M1028,746.89h4.5M94,731.47H98.5M1028,731.47h4.5M94,716.04H98.5M1028,716.04h4.5M94,700.61H98.5M1028,700.61h4.5M94,685.19H98.5M1028,685.19h4.5M94,669.76H98.5M1028,669.76h4.5M94,654.33H98.5M1028,654.33h4.5M94,638.91H98.5M1028,638.91h4.5M94,623.48H98.5M1028,623.48h4.5M94,608.05H98.5M1028,608.05h4.5M94,592.63H98.5M1028,592.63h4.5M94,577.2H98.5M1028,577.2h4.5" stroke-width="1"/>
<path d="M97.9,1040v3.2M103.79,1040v3.2M109.67,1040v3.2M115.56,1040v3.2M121.45,1040v3.2M127.34,1040v3.2M133.22,1040v3.2M139.11,1040v3.2M145,1040v3.2M150.88,1040v3.2M156.77,1040v3.2M162.66,1040v3.2M168.54,1040v3.2M174.43,1040v3.2M180.32,1040v3.2M186.2,1040v3.2M192.09,1040v3.2M197.98,1040v3.2M203.87,1040v3.2M209.75,1040v3.2M215.64,1040v3.2M221.53,1040v3.2M227.41,1040v3.2M233.3,1040v3.2M239.19,1040v3.2M245.07,1040v3.2M250.96,1040v3.2M256.85,1040v3.2M262.74,1040v3.2M268.62,1040v3.2M274.51,1040v3.2M280.4,1040v3.2M286.28,1040v3.2M292.17,1040v3.2M298.06,1040v3.2M303.94,1040v3.2M309.83,1040v3.2M315.72,1040v3.2M321.61,1040v3.2M327.49,1040v3.2M333.38,1040v3.2M339.27,1040v3.2M345.15,1040v3.2M351.04,1040v3.2M356.93,1040v3.2M362.81,1040v3.2M368.7,1040v3.2M374.59,1040v3.2M380.48,1040v3.2M386.36,1040v3.2M392.25,1040v3.2M398.14,1040v3.2M404.02,1040v3.2M409.91,1040v3.2M415.8,1040v3.2M421.68,1040v3.2M427.57,1040v3.2M433.46,1040v3.2M439.35,1040v3.2M445.23,1040v3.2M451.12,1040v3.2M457.01,1040v3.2M462.89,1040v3.2M468.78,1040v3.2M474.67,1040v3.2M480.55,1040v3.2M486.44,1040v3.2M492.33,1040v3.2M498.22,1040v3.2M504.1,1040v3.2M509.99,1040v3.2M515.88,1040v3.2M521.76,1040v3.2M527.65,1040v3.2M533.54,1040v3.2M539.42,1040v3.2M545.31,1040v3.2M551.2,1040v3.2M557.09,1040v3.2M562.97,1040v3.2M568.86,1040v3.2M574.75,1040v3.2M580.63,1040v3.2M586.52,1040v3.2M592.41,1040v3.2M598.29,1040v3.2M604.18,1040v3.2M610.07,1040v3.2M615.96,1040v3.2M621.84,1040v3.2M627.73,1040v3.2M633.62,1040v3.2M639.5,1040v3.2M645.39,1040v3.2M651.28,1040v3.2M657.16,1040v3.2M663.05,1040v3.2M668.94,1040v3.2M674.83,1040v3.2M680.71,1040v3.2M686.6,1040v3.2M692.49,1040v3.2M698.37,1040v3.2M704.26,1040v3.2M710.15,1040v3.2M716.03,1040v3.2M721.92,1040v3.2M727.81,1040v3.2M733.7,1040v3.2M739.58,1040v3.2M745.47,1040v3.2M751.36,1040v3.2M757.24,1040v3.2M763.13,1040v3.2M769.02,1040v3.2M774.9,1040v3.2M780.79,1040v3.2M786.68,1040v3.2M792.57,1040v3.2M798.45,1040v3.2M804.34,1040v3.2M810.23,1040v3.2M816.11,1040v3.2M822,1040v3.2M827.89,1040v3.2M833.77,1040v3.2M839.66,1040v3.2M845.55,1040v3.2M851.44,1040v3.2M857.32,1040v3.2M863.21,1040v3.2M869.1,1040v3.2M874.98,1040v3.2M880.87,1040v3.2M886.76,1040v3.2M892.64,1040v3.2M898.53,1040v3.2M904.42,1040v3.2M910.31,1040v3.2M916.19,1040v3.2M922.08,1040v3.2M927.97,1040v3.2M933.85,1040v3.2M939.74,1040v3.2M945.63,1040v3.2M951.51,1040v3.2M957.4,1040v3.2M963.29,1040v3.2M969.18,1040v3.2M975.06,1040v3.2M980.95,1040v3.2M986.84,1040v3.2M992.72,1040v3.2M998.61,1040v3.2M1004.5,1040v3.2M1010.38,1040v3.2M1016.27,1040v3.2M1022.16,1040v3.2M1028.05,1040v3.2" stroke-width="1" stroke="#555"/>
</g>
<polyline points="100.84,1039.5 106.73,1039.5 112.62,1039.5 118.5,1039 124.39,1038 130.28,1036 136.17,1033 142.05,1027 147.94,1018 153.83,1008 159.71,999 165.6,994 171.49,993.6 177.37,992 183.26,978 189.15,960 195.04,939.5 200.92,961 206.81,969 212.7,965 218.58,965 224.47,983 230.36,978 236.24,992 242.13,1001 248.02,1005 253.91,1006 259.79,1006 265.68,1005 271.57,1005 277.45,1010 283.34,1007 289.23,1005 295.11,1012 301,1000 306.89,1002 312.78,976.5 318.66,977.5 324.55,964 330.44,962 336.32,961.9 342.21,962.5 348.1,966.5 353.98,970.5 359.87,977 365.76,990 371.65,1004 377.53,1008.5 383.42,1013.5 389.31,1016 395.19,1022 401.08,1015 406.97,1016 412.85,1016.4 418.74,1020 424.63,1020 430.52,1016.4 436.4,1022 442.29,1021 448.18,1023 454.06,1026.4 459.95,1025 465.84,1023 471.72,1021 477.61,1014 483.5,1006 489.39,997 495.27,986 501.16,989 507.05,972 512.93,958 518.82,945 524.71,939.6 530.59,939.1 536.48,942.5 542.37,950 548.26,966 554.14,980 560.03,989 565.92,995 571.8,1001 577.69,1007 583.58,1009 589.46,1012 595.35,1011 601.24,1014.5 607.13,1002.5 613.01,995.5 618.9,980 624.79,987.3 630.67,988 636.56,995.5 642.45,1007 648.33,1005 654.22,895 660.11,780 666,669.6 671.88,711.7 677.77,817.3 683.66,907 689.54,959 695.43,989 701.32,1007.5 707.2,1021 713.09,1028.3 718.98,1035 724.87,1037.5 730.75,1038 736.64,1038.5 742.53,1039 748.41,1037.5 754.3,1038.7 760.19,1038.7 766.07,1037 771.96,1036.3 777.85,1034 783.74,1027 789.62,1015 795.51,990 801.4,947 807.28,902 813.17,856.6 819.06,858 824.94,912 830.83,968.3 836.72,982 842.61,996 848.49,1009 854.38,1015 860.27,1019 866.15,1023.3 872.04,1028.3 877.93,1030.5 883.81,1032.5 889.7,1034.7 895.59,1035 901.48,1035 907.36,1034.7 913.25,1033 919.14,1031 925.02,1030.8 930.91,1023 936.8,1012.8 942.68,1016.5 948.57,1020.8 954.46,1018.8 960.35,1022.5 966.23,1023 972.12,1028.5 978.01,1031 983.89,1033.2 989.78,1035.2 995.67,1033.2 1001.55,1033.2 1007.44,1033 1013.33,1030.5 1019.22,1027 1025.1,1027.2" fill="none" stroke="#0b0507" stroke-width="2.15" stroke-linejoin="round" stroke-linecap="round"/>
<g stroke="#c3c6cf" stroke-width="0.8" stroke-opacity="0.85" fill="none">
<path d="M195.5,938L229,915.3H239.5"/>
<path d="M332.5,961L380.5,909.3H390.5"/>
<path d="M525.5,938.5L561.5,919.3H569.5"/>
<path d="M813.8,856L815,843"/>
</g>
<g fill="#111" font-size="14.7">
<text x="245.6" y="917.2" textLength="36" lengthAdjust="spacingAndGlyphs">2603</text>
<text x="396.2" y="911.2" textLength="36" lengthAdjust="spacingAndGlyphs">2024</text>
<text x="575.2" y="921.6" textLength="36" lengthAdjust="spacingAndGlyphs">2614</text>
<text x="683" y="673.3" textLength="36" lengthAdjust="spacingAndGlyphs">9596</text>
<text x="797" y="835.5" textLength="36" lengthAdjust="spacingAndGlyphs">4752</text>
</g>
<g fill="#111" font-size="14.9">
<text x="77.01" y="1042.7" textLength="8.99" lengthAdjust="spacingAndGlyphs">0</text>
<text x="45.55" y="965.57" textLength="40.45" lengthAdjust="spacingAndGlyphs">2,000</text>
<text x="45.55" y="888.43" textLength="40.45" lengthAdjust="spacingAndGlyphs">4,000</text>
<text x="45.55" y="811.3" textLength="40.45" lengthAdjust="spacingAndGlyphs">6,000</text>
<text x="45.55" y="734.17" textLength="40.45" lengthAdjust="spacingAndGlyphs">8,000</text>
<text x="36.56" y="657.03" textLength="49.44" lengthAdjust="spacingAndGlyphs">10,000</text>
<text x="36.56" y="579.9" textLength="49.44" lengthAdjust="spacingAndGlyphs">12,000</text>
<text x="1041.3" y="1042.7" textLength="8.99" lengthAdjust="spacingAndGlyphs">0</text>
<text x="1041.3" y="965.57" textLength="26.97" lengthAdjust="spacingAndGlyphs">200</text>
<text x="1041.3" y="888.43" textLength="26.97" lengthAdjust="spacingAndGlyphs">400</text>
<text x="1041.3" y="811.3" textLength="26.97" lengthAdjust="spacingAndGlyphs">600</text>
<text x="1041.3" y="734.17" textLength="26.97" lengthAdjust="spacingAndGlyphs">800</text>
<text x="1041.3" y="657.03" textLength="40.45" lengthAdjust="spacingAndGlyphs">1,000</text>
<text x="1041.3" y="579.9" textLength="40.45" lengthAdjust="spacingAndGlyphs">1,200</text>
</g>
<g fill="#111" font-size="15.2" stroke="#111" stroke-width="0.25">
<text transform="translate(104.54,1065.7) rotate(-90)">11</text>
<text transform="translate(122.2,1065.7) rotate(-90)">14</text>
<text transform="translate(139.87,1065.7) rotate(-90)">17</text>
<text transform="translate(157.53,1065.7) rotate(-90)">20</text>
<text transform="translate(175.19,1065.7) rotate(-90)">23</text>
<text transform="translate(192.85,1065.7) rotate(-90)">26</text>
<text transform="translate(210.51,1065.7) rotate(-90)">29</text>
<text transform="translate(228.17,1065.7) rotate(-90)">32</text>
<text transform="translate(245.83,1065.7) rotate(-90)">35</text>
<text transform="translate(263.49,1065.7) rotate(-90)">38</text>
<text transform="translate(281.15,1065.7) rotate(-90)">41</text>
<text transform="translate(298.81,1065.7) rotate(-90)">44</text>
<text transform="translate(316.48,1065.7) rotate(-90)">47</text>
<text transform="translate(334.14,1065.7) rotate(-90)">50</text>
<text transform="translate(351.8,1065.7) rotate(-90)">53</text>
<text transform="translate(369.46,1065.7) rotate(-90)">03</text>
<text transform="translate(387.12,1065.7) rotate(-90)">06</text>
<text transform="translate(404.78,1065.7) rotate(-90)">09</text>
<text transform="translate(422.44,1065.7) rotate(-90)">12</text>
<text transform="translate(440.1,1065.7) rotate(-90)">15</text>
<text transform="translate(457.76,1065.7) rotate(-90)">18</text>
<text transform="translate(475.42,1065.7) rotate(-90)">21</text>
<text transform="translate(493.09,1065.7) rotate(-90)">24</text>
<text transform="translate(510.75,1065.7) rotate(-90)">27</text>
<text transform="translate(528.41,1065.7) rotate(-90)">30</text>
<text transform="translate(546.07,1065.7) rotate(-90)">33</text>
<text transform="translate(563.73,1065.7) rotate(-90)">36</text>
<text transform="translate(581.39,1065.7) rotate(-90)">39</text>
<text transform="translate(599.05,1065.7) rotate(-90)">42</text>
<text transform="translate(616.71,1065.7) rotate(-90)">45</text>
<text transform="translate(634.37,1065.7) rotate(-90)">48</text>
<text transform="translate(652.03,1065.7) rotate(-90)">51</text>
<text transform="translate(669.7,1065.7) rotate(-90)">02</text>
<text transform="translate(687.36,1065.7) rotate(-90)">05</text>
<text transform="translate(705.02,1065.7) rotate(-90)">08</text>
<text transform="translate(722.68,1065.7) rotate(-90)">11</text>
<text transform="translate(740.34,1065.7) rotate(-90)">14</text>
<text transform="translate(758,1065.7) rotate(-90)">17</text>
<text transform="translate(775.66,1065.7) rotate(-90)">20</text>
<text transform="translate(793.32,1065.7) rotate(-90)">23</text>
<text transform="translate(810.98,1065.7) rotate(-90)">26</text>
<text transform="translate(828.64,1065.7) rotate(-90)">29</text>
<text transform="translate(846.31,1065.7) rotate(-90)">32</text>
<text transform="translate(863.97,1065.7) rotate(-90)">35</text>
<text transform="translate(881.63,1065.7) rotate(-90)">38</text>
<text transform="translate(899.29,1065.7) rotate(-90)">41</text>
<text transform="translate(916.95,1065.7) rotate(-90)">44</text>
<text transform="translate(934.61,1065.7) rotate(-90)">47</text>
<text transform="translate(952.27,1065.7) rotate(-90)">50</text>
<text transform="translate(969.93,1065.7) rotate(-90)">01</text>
<text transform="translate(987.59,1065.7) rotate(-90)">04</text>
<text transform="translate(1005.25,1065.7) rotate(-90)">07</text>
<text transform="translate(1022.92,1065.7) rotate(-90)">10</text>
</g>
<g fill="#111" font-size="15.4" text-anchor="middle">
<text x="224.5" y="1087.6">2020</text><text x="503.5" y="1087.6">2021</text><text x="810" y="1087.6">2022</text><text x="996" y="1087.6">2023</text>
<text x="563.2" y="1108.3" font-size="16" textLength="216.5" lengthAdjust="spacingAndGlyphs">Semana de inicio de síntomas</text>
<text transform="translate(27,808.4) rotate(-90)" font-size="16" textLength="93.5" lengthAdjust="spacingAndGlyphs">Ambulatorios</text>
<text transform="translate(1100.3,807.6) rotate(-90)" font-size="16" textLength="209.5" lengthAdjust="spacingAndGlyphs">Hospitalizados y defunciones</text>
</g>
<rect x="316" y="567" width="31" height="10.7" fill="#631431"/>
<rect x="512.3" y="567" width="29.3" height="10.7" fill="#FFBF00"/>
<line x1="734.7" y1="572.3" x2="765.6" y2="572.3" stroke="#111" stroke-width="2"/>
<g fill="#111" font-size="19.8" stroke="#111" stroke-width="0.65">
<text x="350.7" y="579.3" textLength="130.6" lengthAdjust="spacingAndGlyphs">Defunciones</text>
<text x="545.3" y="579.3" textLength="152" lengthAdjust="spacingAndGlyphs">Hospitalizados</text>
<text x="769.3" y="579.3" textLength="144" lengthAdjust="spacingAndGlyphs">Ambulatorios</text>
</g>
<g font-size="18.8">
<text x="195.95" y="1134.7" fill="#A2397F" stroke="#fff" stroke-width="0.5" textLength="20.11" lengthAdjust="spacingAndGlyphs">EL</text>
<text x="225.0" y="1134.7" font-weight="bold" fill="#8A1C6D" stroke="#8A1C6D" stroke-width="0.5" textLength="39.12" lengthAdjust="spacingAndGlyphs">97%</text>
<text x="272.02" y="1134.7" fill="#A2397F" stroke="#fff" stroke-width="0.5" textLength="25.87" lengthAdjust="spacingAndGlyphs">DE</text>
<text x="305.3" y="1134.7" fill="#A2397F" stroke="#fff" stroke-width="0.5" textLength="37.59" lengthAdjust="spacingAndGlyphs">LOS</text>
<text x="351.79" y="1134.7" fill="#A2397F" stroke="#fff" stroke-width="0.5" textLength="66.48" lengthAdjust="spacingAndGlyphs">CASOS</text>
<text x="426.43" y="1134.7" fill="#A2397F" stroke="#fff" stroke-width="0.5" textLength="21.79" lengthAdjust="spacingAndGlyphs">SE</text>
<text x="456.8" y="1134.7" fill="#A2397F" stroke="#fff" stroke-width="0.5" textLength="139.21" lengthAdjust="spacingAndGlyphs">CLASIFICARON</text>
<text x="602.19" y="1134.7" fill="#A2397F" stroke="#fff" stroke-width="0.5" textLength="64.7" lengthAdjust="spacingAndGlyphs">COMO</text>
<text x="671.95" y="1134.7" fill="#A2397F" stroke="#fff" stroke-width="0.5" textLength="62.13" lengthAdjust="spacingAndGlyphs">LEVES</text>
<text x="741.41" y="1134.7" fill="#A2397F" stroke="#fff" stroke-width="0.5" textLength="24.62" lengthAdjust="spacingAndGlyphs">DE</text>
<text x="772.77" y="1134.7" fill="#A2397F" stroke="#fff" stroke-width="0.5" textLength="79.31" lengthAdjust="spacingAndGlyphs">MANEJO</text>
<text x="860.2" y="1134.7" fill="#A2397F" stroke="#fff" stroke-width="0.5" textLength="143.85" lengthAdjust="spacingAndGlyphs">AMBULATORIO</text>
</g>
<text x="209.3" y="1156.8" font-size="8.3" fill="#1a1a1a" textLength="784" lengthAdjust="spacingAndGlyphs">FUENTE: SECRETARIA DE SALUD/SISTEMA NACIONAL DE VIGILANCIA EPIDEMIOLÓGICA/SISTEMA DE VIGILANCIA EPIDEMIOLÓGICA DE ENFERMEDADES RESPIRATORIAS/CORTE 27.03.23</text>
</svg>
</body></html>
